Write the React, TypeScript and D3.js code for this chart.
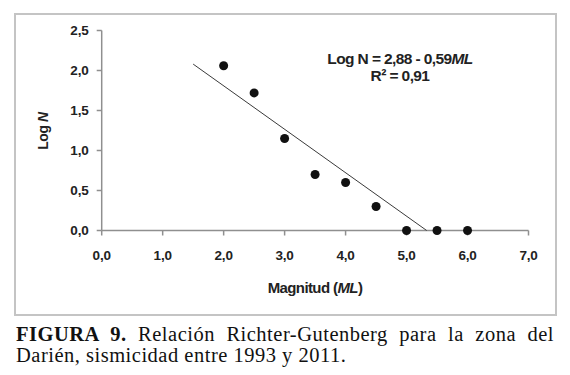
import React, { useEffect, useRef } from "react";
import * as d3 from "d3";

const magnitudes = [2.0, 2.5, 3.0, 3.5, 4.0, 4.5, 5.0, 5.5, 6.0];
const logN = [2.06, 1.72, 1.15, 0.70, 0.60, 0.30, 0.0, 0.0, 0.0];
const trendX = [1.5, 5.33];
const trendY = [2.08, 0.0];
const xTicks = [0, 1, 2, 3, 4, 5, 6, 7];
const yTicks = [0, 0.5, 1.0, 1.5, 2.0, 2.5];
const captionLine1 = ["Relación", "Richter-Gutenberg", "para", "la", "zona", "del"];
const captionLine2 = "Darién, sismicidad entre 1993 y 2011.";

const W = 570;
const H = 375;
const fmt = (v: number) => v.toFixed(1).replace(".", ",");

export default function App() {
  const capRef = useRef<SVGTextElement>(null);

  const x = d3.scaleLinear().domain([0, 7]).range([101.7, 528.5]);
  const y = d3.scaleLinear().domain([0, 2.5]).range([230.5, 30.5]);
  const line = d3.line<[number, number]>().x((d) => x(d[0])).y((d) => y(d[1]));
  const trend: [number, number][] = trendX.map((v, i) => [v, trendY[i]]);

  useEffect(() => {
    const t = capRef.current;
    if (!t) return;
    const target = 554 - 16;
    t.setAttribute("word-spacing", "0");
    const len = t.getComputedTextLength();
    const spaces = captionLine1.length + 1;
    const ws = (target - len) / spaces;
    t.setAttribute("word-spacing", String(Math.max(0, ws)));
  }, []);

  const axisColor = "#8f8f8f";
  const font = "'Liberation Sans', Arial, sans-serif";
  const serif = "'Liberation Serif', 'Times New Roman', serif";

  return (
    <svg
      width={W}
      height={H}
      style={{ position: "absolute", left: 0, top: 0, background: "#fff" }}
    >
      <rect x={0} y={0} width={W} height={H} fill="#fff" />
      <rect x={15} y={14} width={541} height={301} fill="#fff" stroke="#c4c4c4" strokeWidth={2} />

      {/* axes */}
      <line x1={x(0)} x2={x(0)} y1={y(2.5)} y2={y(0)} stroke={axisColor} strokeWidth={1.5} />
      <line x1={x(0)} x2={x(7)} y1={y(0)} y2={y(0)} stroke={axisColor} strokeWidth={1.5} />
      {yTicks.map((t) => (
        <g key={"y" + t}>
          <line x1={x(0) - 5} x2={x(0)} y1={y(t)} y2={y(t)} stroke={axisColor} strokeWidth={1.5} />
          <text
            x={88.5}
            y={y(t) + 4.8}
            textAnchor="end"
            fontFamily={font}
            fontWeight="bold"
            fontSize={13.5}
            letterSpacing={-0.2}
            fill="#222"
          >
            {fmt(t)}
          </text>
        </g>
      ))}
      {xTicks.map((t) => (
        <g key={"x" + t}>
          <line x1={x(t)} x2={x(t)} y1={y(0)} y2={y(0) + 5} stroke={axisColor} strokeWidth={1.5} />
          <text
            x={x(t)}
            y={260}
            textAnchor="middle"
            fontFamily={font}
            fontWeight="bold"
            fontSize={13.5}
            letterSpacing={-0.2}
            fill="#222"
          >
            {fmt(t)}
          </text>
        </g>
      ))}

      {/* trend line */}
      <path d={line(trend) || ""} fill="none" stroke="#3a3a3a" strokeWidth={1} />

      {/* points */}
      {magnitudes.map((m, i) => (
        <circle key={"p" + i} cx={x(m)} cy={y(logN[i])} r={4.5} fill="#111" />
      ))}

      {/* axis titles */}
      <text
        x={315}
        y={293}
        textAnchor="middle"
        fontFamily={font}
        fontWeight="bold"
        fontSize={15}
        letterSpacing={-0.6}
        fill="#222"
      >
        Magnitud (<tspan fontStyle="italic">ML</tspan>)
      </text>
      <text
        transform="translate(47.5,131) rotate(-90)"
        textAnchor="middle"
        fontFamily={font}
        fontWeight="bold"
        fontSize={14}
        letterSpacing={-0.4}
        fill="#222"
      >
        Log <tspan fontStyle="italic">N</tspan>
      </text>

      {/* equation */}
      <text
        x={400}
        y={63.5}
        textAnchor="middle"
        fontFamily={font}
        fontWeight="bold"
        fontSize={15.5}
        letterSpacing={-0.6}
        fill="#222"
      >
        Log N = 2,88 - 0,59<tspan fontStyle="italic">ML</tspan>
      </text>
      <text
        x={400}
        y={81}
        textAnchor="middle"
        fontFamily={font}
        fontWeight="bold"
        fontSize={15.5}
        letterSpacing={-0.6}
        fill="#222"
      >
        R² = 0,91
      </text>

      {/* caption */}
      <text
        ref={capRef}
        x={16}
        y={340.5}
        fontFamily={serif}
        fontSize={20.5}
        letterSpacing={0.5}
        fill="#111"
      >
        <tspan fontWeight="bold">FIGURA 9.</tspan> {captionLine1.join(" ")}
      </text>
      <text
        x={16}
        y={361.5}
        fontFamily={serif}
        fontSize={20.5}
        letterSpacing={0.5}
        fill="#111"
      >
        {captionLine2}
      </text>
    </svg>
  );
}
